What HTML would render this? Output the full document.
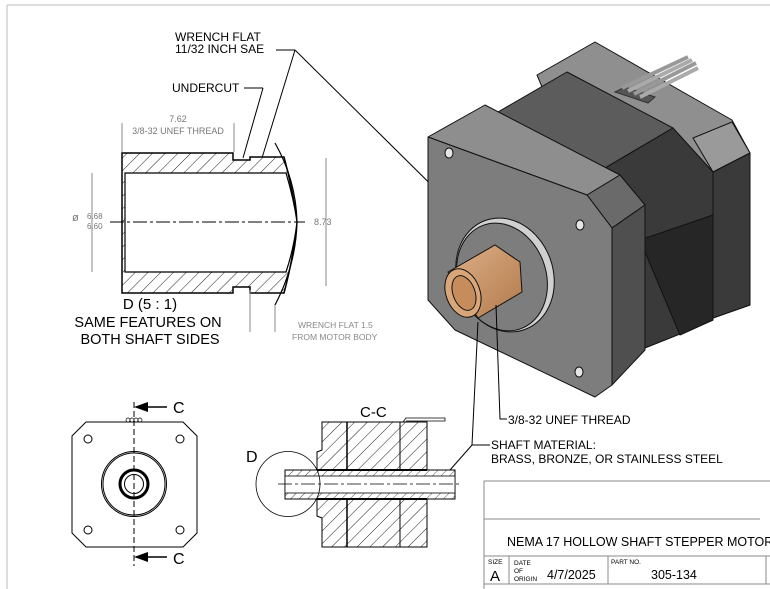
<!DOCTYPE html>
<html><head><meta charset="utf-8"><style>
html,body{margin:0;padding:0;background:#fff}
svg{display:block}
text{font-family:"Liberation Sans",sans-serif}
</style></head><body>
<svg width="770" height="589" viewBox="0 0 770 589" xmlns="http://www.w3.org/2000/svg">
<defs>
<pattern id="h" width="9" height="9" patternUnits="userSpaceOnUse" patternTransform="rotate(45)">
<rect width="9" height="9" fill="#fff"/><line x1="0" y1="0" x2="0" y2="9" stroke="#222" stroke-width="1"/></pattern>
<pattern id="h2" width="6" height="6" patternUnits="userSpaceOnUse" patternTransform="rotate(45)">
<rect width="6" height="6" fill="#fff"/><line x1="0" y1="0" x2="0" y2="6" stroke="#222" stroke-width="0.8"/></pattern>
<linearGradient id="br" x1="0" y1="0" x2="1" y2="1"><stop offset="0" stop-color="#e0b088"/><stop offset="1" stop-color="#b07a4c"/></linearGradient>
</defs>
<line x1="7" y1="5" x2="770" y2="5" stroke="#bbb"/>
<line x1="7" y1="5" x2="7" y2="589" stroke="#bbb"/>

<!-- ===== Detail D ===== -->
<text x="175" y="41" font-size="12">WRENCH FLAT</text>
<text x="175" y="53" font-size="12">11/32 INCH SAE</text>
<line x1="276" y1="50" x2="295" y2="50" stroke="#000"/>
<line x1="295" y1="50" x2="262" y2="158" stroke="#000"/>
<line x1="295" y1="50" x2="492" y2="245" stroke="#000"/>
<text x="172" y="92" font-size="12">UNDERCUT</text>
<line x1="244" y1="88" x2="263" y2="88" stroke="#000"/>
<line x1="263" y1="88" x2="243" y2="158" stroke="#000"/>
<text x="178" y="122" font-size="9" fill="#777" text-anchor="middle">7.62</text>
<text x="178" y="134" font-size="9" fill="#777" text-anchor="middle">3/8-32 UNEF THREAD</text>
<line x1="122" y1="123" x2="122" y2="152" stroke="#888"/>
<line x1="234" y1="123" x2="234" y2="152" stroke="#888"/>
<path d="M122,153 H233 V160 H250 V157 H284 Q293,190 297,222 Q293,260 284,293 H250 V287 H233 V293 H122 Z" fill="url(#h)" stroke="#000" stroke-width="1.5"/>
<path d="M125,173 H286 Q294,200 297,222 Q294,248 286,272 H125 Z" fill="#fff" stroke="#000" stroke-width="1.2"/>
<path d="M275,143 Q296,180 297,222 Q296,265 275,305" fill="none" stroke="#000" stroke-width="1.2"/>
<line x1="110" y1="222" x2="305" y2="222" stroke="#000" stroke-dasharray="14,3,3,3"/>
<line x1="92" y1="173" x2="92" y2="272" stroke="#888"/>
<text x="72" y="221" font-size="11" fill="#777">ø</text>
<text x="87" y="219" font-size="8" fill="#777">6.68</text>
<text x="87" y="229" font-size="8" fill="#777">6.60</text>
<line x1="326" y1="158" x2="326" y2="286" stroke="#888"/>
<text x="314" y="225" font-size="9" fill="#777">8.73</text>
<line x1="250" y1="290" x2="250" y2="332" stroke="#888"/>
<line x1="275" y1="305" x2="275" y2="332" stroke="#888"/>
<text x="298" y="328" font-size="8.5" fill="#888">WRENCH FLAT 1.5</text>
<text x="292" y="340" font-size="8.5" fill="#888">FROM MOTOR BODY</text>
<text x="150" y="309" font-size="15" text-anchor="middle">D (5 : 1)</text>
<text x="148" y="327" font-size="14.5" text-anchor="middle">SAME FEATURES ON</text>
<text x="150" y="344" font-size="14.5" text-anchor="middle">BOTH SHAFT SIDES</text>

<!-- ===== 3D motor ===== -->
<g stroke="#111" stroke-width="1" stroke-linejoin="round">
<!-- back plate -->
<polygon points="537,75 595,42 732,120 750,153 750,305 713,318 640,300 560,130" fill="#8f8f8f"/>
<polygon points="693,138 732,122 750,153 713,172" fill="#9a9a9a"/>
<polygon points="713,172 750,153 750,305 713,318" fill="#3a3a3a"/>
<!-- body -->
<polygon points="498,112 567,72 673,128 605,168" fill="#5c5c5c"/>
<polygon points="605,168 673,128 713,172 713,320 690,330 640,350" fill="#3a3a3a"/>
<polygon points="640,240 713,215 713,320 680,335" fill="#262626"/>
<!-- front plate -->
<polygon points="428,137 485,105 620,175 587,195" fill="#8e8e8e"/>
<polygon points="587,195 620,175 645,205 612,228" fill="#6a6a6a"/>
<polygon points="612,228 645,205 645,350 612,385" fill="#4f4f4f"/>
<polygon points="428,137 587,195 612,228 612,385 595,397 455,330 428,300" fill="#7d7d7d"/>
<ellipse cx="449" cy="153" rx="4" ry="5" fill="#e5e5e5"/>
<ellipse cx="580" cy="225" rx="4" ry="5" fill="#e5e5e5"/>
<ellipse cx="579" cy="372" rx="4" ry="5" fill="#e5e5e5"/>
</g>
<g stroke="#111" stroke-width="1">
<ellipse cx="505" cy="275" rx="48" ry="58" fill="#d0d0d0" transform="rotate(-20 505 275)"/>
<ellipse cx="502" cy="277" rx="44" ry="55" fill="#7d7d7d" transform="rotate(-20 502 277)"/>
<polygon points="448,272 495,245 520,262 522,292 478,318" fill="url(#br)"/>
<ellipse cx="463" cy="293" rx="17" ry="25" fill="#d9a67a" transform="rotate(-20 463 293)"/>
<ellipse cx="464" cy="293" rx="11" ry="18" fill="#c68c5c" transform="rotate(-20 464 293)"/>
</g>
<!-- ribbon wires -->
<g stroke="#333" stroke-width="1">
<polygon points="615,92 625,87 655,97 648,103" fill="#555"/>
<line x1="622" y1="88" x2="688" y2="57" stroke-width="4" stroke="#999"/>
<line x1="628" y1="91" x2="692" y2="60" stroke-width="4" stroke="#aaa"/>
<line x1="634" y1="94" x2="696" y2="63" stroke-width="4" stroke="#999"/>
<line x1="640" y1="97" x2="698" y2="68" stroke-width="4" stroke="#aaa"/>
</g>
<!-- leaders -->
<g stroke="#000" fill="none">
<polyline points="496,305 500,419 507,419"/>
<polyline points="478,322 472,445 490,445"/>
<line x1="472" y1="445" x2="450" y2="470"/>
</g>
<text x="508" y="424" font-size="12">3/8-32 UNEF THREAD</text>
<text x="491" y="449" font-size="12">SHAFT MATERIAL:</text>
<text x="491" y="463" font-size="12">BRASS, BRONZE, OR STAINLESS STEEL</text>

<!-- ===== Front view ===== -->
<path d="M86,422 H183 L197,436 V533 L183,547 H86 L72,533 V436 Z" fill="#fff" stroke="#000"/>
<circle cx="88" cy="439" r="4" fill="none" stroke="#000"/>
<circle cx="180" cy="439" r="4" fill="none" stroke="#000"/>
<circle cx="88" cy="530" r="4" fill="none" stroke="#000"/>
<circle cx="180" cy="530" r="4" fill="none" stroke="#000"/>
<circle cx="134" cy="484" r="32.5" fill="none" stroke="#000"/>
<circle cx="134" cy="484" r="31" fill="none" stroke="#000"/>
<circle cx="134" cy="484" r="14" fill="none" stroke="#000" stroke-width="3"/>
<circle cx="134" cy="484" r="9.5" fill="none" stroke="#000"/>
<g fill="#fff" stroke="#000" stroke-width=".7">
<circle cx="128" cy="420" r="2"/><circle cx="132" cy="420" r="2"/><circle cx="136" cy="420" r="2"/><circle cx="140" cy="420" r="2"/></g>
<line x1="134" y1="402" x2="134" y2="566" stroke="#000" stroke-dasharray="6,3"/>
<line x1="140" y1="407" x2="167" y2="407" stroke="#000" stroke-width="1.5"/>
<polygon points="134,407 148,402 148,412" fill="#000"/>
<text x="173" y="413" font-size="16">C</text>
<line x1="140" y1="557" x2="167" y2="557" stroke="#000" stroke-width="1.5"/>
<polygon points="134,557 148,552 148,562" fill="#000"/>
<text x="173" y="564" font-size="16">C</text>

<!-- ===== Section C-C ===== -->
<text x="360" y="417" font-size="15">C-C</text>
<polyline points="403,422 406,418 445,418 445,421 406,421" fill="#fff" stroke="#000" stroke-width=".8"/>
<path d="M322,422 H427 V470 H317 V452 L322,450 Z" fill="url(#h)" stroke="#000"/>
<path d="M322,547 H427 V499 H317 V516 L322,518 Z" fill="url(#h)" stroke="#000"/>
<line x1="347" y1="422" x2="347" y2="547" stroke="#000" stroke-width="1.5"/>
<line x1="400" y1="422" x2="400" y2="547" stroke="#000"/>
<rect x="285" y="470" width="170" height="29" fill="url(#h2)" stroke="#000"/>
<rect x="285" y="476" width="170" height="17" fill="#fff" stroke="#000" stroke-width=".8"/>
<line x1="317" y1="470" x2="427" y2="470" stroke="#000" stroke-width="2"/>
<line x1="317" y1="499" x2="427" y2="499" stroke="#000" stroke-width="2"/>
<line x1="278" y1="484" x2="462" y2="484" stroke="#000" stroke-dasharray="14,3,3,3" stroke-width=".8"/>
<ellipse cx="288" cy="484" rx="32" ry="32.5" fill="none" stroke="#000" stroke-width=".8"/>
<text x="246" y="462" font-size="16">D</text>

<!-- ===== Title block ===== -->
<g stroke="#888" fill="none">
<polyline points="484,589 484,481 770,481"/>
<line x1="484" y1="519" x2="760" y2="519"/>
<line x1="484" y1="556" x2="770" y2="556"/>
<line x1="484" y1="584" x2="770" y2="584"/>
<line x1="509" y1="556" x2="509" y2="584"/>
<line x1="608" y1="556" x2="608" y2="584"/>
<line x1="766" y1="556" x2="766" y2="584"/>
</g>
<text x="507" y="546" font-size="12.5">NEMA 17 HOLLOW SHAFT STEPPER MOTOR</text>
<text x="488" y="564" font-size="6.5">SIZE</text>
<text x="490" y="581" font-size="15">A</text>
<text x="514" y="565" font-size="6.5">DATE</text>
<text x="514" y="573" font-size="6.5">OF</text>
<text x="514" y="581" font-size="6.5">ORIGIN</text>
<text x="547" y="579" font-size="12.5">4/7/2025</text>
<text x="611" y="564" font-size="6.5">PART NO.</text>
<text x="651" y="579" font-size="12.5">305-134</text>
</svg>
</body></html>
